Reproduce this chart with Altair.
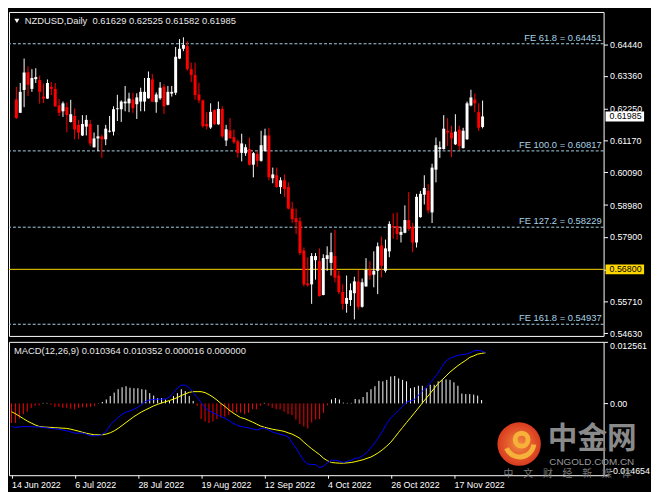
import json
import altair as alt
import pandas as pd

# ---------------- data ----------------
date_labels = ["14 Jun 2022", "6 Jul 2022", "28 Jul 2022", "19 Aug 2022",
               "12 Sep 2022", "4 Oct 2022", "26 Oct 2022", "17 Nov 2022"]
label_step = 16  # bars between date labels

opens = [
    0.6256, 0.6211, 0.6288, 0.6348, 0.6292, 0.6325, 0.6322, 0.6266, 0.6259, 0.6299,
    0.6292, 0.6236, 0.6216, 0.6230, 0.6180, 0.6200, 0.6170, 0.6134, 0.6164, 0.6173,
    0.6094, 0.6124, 0.6131, 0.6121, 0.6147, 0.6147, 0.6223, 0.6223, 0.6243, 0.6243,
    0.6256, 0.6240, 0.6249, 0.6249, 0.6260, 0.6324, 0.6247, 0.6260, 0.6299, 0.6238,
    0.6276, 0.6279, 0.6395, 0.6428, 0.6437, 0.6359, 0.6339, 0.6273, 0.6253, 0.6173,
    0.6161, 0.6220, 0.6172, 0.6224, 0.6117, 0.6151, 0.6128, 0.6114, 0.6075, 0.6074,
    0.6088, 0.6035, 0.6071, 0.6048, 0.6081, 0.6134, 0.5989, 0.5999, 0.5959, 0.5982,
    0.5959, 0.5886, 0.5853, 0.5843, 0.5744, 0.5632, 0.5629, 0.5711, 0.5708, 0.5593,
    0.5715, 0.5702, 0.5725, 0.5659, 0.5603, 0.5563, 0.5576, 0.5599, 0.5639, 0.5553,
    0.5622, 0.5678, 0.5662, 0.5675, 0.5761, 0.5675, 0.5741, 0.5827, 0.5827, 0.5797,
    0.5804, 0.5847, 0.5824, 0.5771, 0.5857, 0.5933, 0.5946, 0.5873, 0.6018, 0.6088,
    0.6088, 0.6150, 0.6144, 0.6104, 0.6154, 0.6091, 0.6121, 0.6236, 0.6256, 0.6213,
    0.61629]
highs = [
    0.6299, 0.6312, 0.6395, 0.6368, 0.6359, 0.6362, 0.6337, 0.6310, 0.6324, 0.6315,
    0.6312, 0.6258, 0.6249, 0.6246, 0.6255, 0.6226, 0.6187, 0.6203, 0.6203, 0.6187,
    0.6144, 0.6170, 0.6137, 0.6170, 0.6200, 0.6233, 0.6272, 0.6253, 0.6302, 0.6279,
    0.6279, 0.6277, 0.6296, 0.6329, 0.6351, 0.6342, 0.6280, 0.6315, 0.6309, 0.6302,
    0.6302, 0.6434, 0.6461, 0.6467, 0.6454, 0.6381, 0.6381, 0.6313, 0.6256, 0.6213,
    0.6243, 0.6223, 0.6249, 0.6233, 0.6170, 0.6193, 0.6154, 0.6120, 0.6140, 0.6104,
    0.6127, 0.6078, 0.6081, 0.6150, 0.6157, 0.6160, 0.6025, 0.6025, 0.5992, 0.6002,
    0.5975, 0.5909, 0.5886, 0.5857, 0.5754, 0.5721, 0.5735, 0.5735, 0.5751, 0.5731,
    0.5758, 0.5804, 0.5814, 0.5675, 0.5629, 0.5659, 0.5632, 0.5655, 0.5678, 0.5649,
    0.5718, 0.5708, 0.5741, 0.5771, 0.5791, 0.5781, 0.5843, 0.5870, 0.5873, 0.5824,
    0.5897, 0.5942, 0.5837, 0.5936, 0.5946, 0.5999, 0.5969, 0.6038, 0.6127, 0.6114,
    0.6203, 0.6193, 0.6167, 0.6206, 0.6167, 0.6160, 0.6249, 0.6289, 0.6276, 0.6243,
    0.62525]
lows = [
    0.6190, 0.6210, 0.6230, 0.6268, 0.6282, 0.6312, 0.6242, 0.6244, 0.6258, 0.6271,
    0.6232, 0.6200, 0.6197, 0.6145, 0.6178, 0.6121, 0.6121, 0.6132, 0.6134, 0.6098,
    0.6093, 0.6081, 0.6058, 0.6101, 0.6144, 0.6134, 0.6183, 0.6180, 0.6216, 0.6213,
    0.6211, 0.6190, 0.6216, 0.6216, 0.6259, 0.6248, 0.6211, 0.6255, 0.6207, 0.6236,
    0.6266, 0.6271, 0.6393, 0.6420, 0.6354, 0.6315, 0.6255, 0.6244, 0.6161, 0.6155,
    0.6156, 0.6170, 0.6170, 0.6126, 0.6098, 0.6122, 0.6106, 0.6059, 0.6046, 0.6065,
    0.6032, 0.5992, 0.6028, 0.6045, 0.6079, 0.5982, 0.5972, 0.5957, 0.5936, 0.5926,
    0.5883, 0.5837, 0.5800, 0.5728, 0.5622, 0.5622, 0.5563, 0.5645, 0.5588, 0.5592,
    0.5675, 0.5659, 0.5636, 0.5596, 0.5543, 0.5533, 0.5556, 0.5510, 0.5543, 0.5550,
    0.5621, 0.5645, 0.5619, 0.5596, 0.5652, 0.5669, 0.5721, 0.5784, 0.5781, 0.5771,
    0.5802, 0.5810, 0.5738, 0.5754, 0.5855, 0.5900, 0.5870, 0.5837, 0.5975, 0.6058,
    0.6086, 0.6098, 0.6061, 0.6102, 0.6084, 0.6090, 0.6119, 0.6233, 0.6213, 0.6149,
    0.61582]
closes = [
    0.6193, 0.6282, 0.6348, 0.6306, 0.6329, 0.6332, 0.6282, 0.6259, 0.6312, 0.6292,
    0.6233, 0.6211, 0.6243, 0.6203, 0.6206, 0.6154, 0.6144, 0.6173, 0.6187, 0.6107,
    0.6124, 0.6131, 0.6121, 0.6157, 0.6150, 0.6223, 0.6226, 0.6249, 0.6249, 0.6259,
    0.6227, 0.6263, 0.6282, 0.6282, 0.6329, 0.6249, 0.6273, 0.6296, 0.6233, 0.6282,
    0.6282, 0.6401, 0.6428, 0.6441, 0.6359, 0.6339, 0.6271, 0.6253, 0.6165, 0.6165,
    0.6214, 0.6172, 0.6224, 0.6131, 0.6155, 0.6125, 0.6111, 0.6075, 0.6107, 0.6094,
    0.6035, 0.6074, 0.6048, 0.6101, 0.6134, 0.5992, 0.6002, 0.5959, 0.5982, 0.5952,
    0.5886, 0.5850, 0.5840, 0.5735, 0.5629, 0.5626, 0.5725, 0.5725, 0.5589, 0.5718,
    0.5728, 0.5738, 0.5652, 0.5603, 0.5563, 0.5583, 0.5609, 0.5639, 0.5553, 0.5636,
    0.5678, 0.5659, 0.5675, 0.5758, 0.5692, 0.5751, 0.5834, 0.5824, 0.5800, 0.5807,
    0.5847, 0.5817, 0.5771, 0.5926, 0.5936, 0.5956, 0.5880, 0.6025, 0.6101, 0.6094,
    0.6157, 0.6144, 0.6124, 0.6147, 0.6098, 0.6150, 0.6243, 0.6263, 0.6243, 0.6160,
    0.61985]

macd_main = [
    -0.00470, -0.00490, -0.00480, -0.00474, -0.00474, -0.00476, -0.00480, -0.00480, -0.00490, -0.00500,
    -0.00510, -0.00520, -0.00526, -0.00544, -0.00560, -0.00580, -0.00606, -0.00606, -0.00606, -0.00630,
    -0.00660, -0.00660, -0.00660, -0.00630, -0.00570, -0.00440, -0.00360, -0.00290, -0.00220, -0.00180,
    -0.00150, -0.00120, -0.00080, -0.00020, 0.00040, 0.00070, 0.00080, 0.00086, 0.00086, 0.00090,
    0.00130, 0.00220, 0.00310, 0.00374, 0.00370, 0.00320, 0.00220, 0.00120, 0.00020, -0.00090,
    -0.00150, -0.00190, -0.00230, -0.00270, -0.00300, -0.00350, -0.00400, -0.00440, -0.00470, -0.00484,
    -0.00500, -0.00520, -0.00540, -0.00520, -0.00500, -0.00540, -0.00580, -0.00610, -0.00630, -0.00650,
    -0.00680, -0.00794, -0.00910, -0.01040, -0.01170, -0.01240, -0.01246, -0.01250, -0.01310, -0.01280,
    -0.01210, -0.01160, -0.01160, -0.01180, -0.01206, -0.01180, -0.01160, -0.01120, -0.01114, -0.01060,
    -0.01000, -0.00900, -0.00800, -0.00680, -0.00560, -0.00410, -0.00300, -0.00220, -0.00140, -0.00060,
    0.00030, 0.00050, 0.00080, 0.00170, 0.00250, 0.00330, 0.00420, 0.00520, 0.00620, 0.00760,
    0.00870, 0.00920, 0.00950, 0.00980, 0.00994, 0.01004, 0.01030, 0.01070, 0.01086, 0.01070,
    0.010364]
macd_signal = [
    -0.00170, -0.00210, -0.00260, -0.00310, -0.00360, -0.00400, -0.00440, -0.00470, -0.00480, -0.00486,
    -0.00490, -0.00496, -0.00500, -0.00506, -0.00510, -0.00526, -0.00546, -0.00566, -0.00590, -0.00610,
    -0.00626, -0.00640, -0.00640, -0.00640, -0.00626, -0.00600, -0.00560, -0.00510, -0.00450, -0.00390,
    -0.00330, -0.00270, -0.00220, -0.00170, -0.00130, -0.00090, -0.00050, -0.00020, 0.00010, 0.00034,
    0.00060, 0.00086, 0.00120, 0.00160, 0.00194, 0.00226, 0.00240, 0.00240, 0.00240, 0.00220,
    0.00180, 0.00130, 0.00070, 0.00000, -0.00060, -0.00130, -0.00190, -0.00240, -0.00290, -0.00310,
    -0.00346, -0.00380, -0.00420, -0.00460, -0.00486, -0.00506, -0.00526, -0.00540, -0.00554, -0.00570,
    -0.00600, -0.00626, -0.00666, -0.00714, -0.00790, -0.00860, -0.00926, -0.00986, -0.01046, -0.01120,
    -0.01170, -0.01206, -0.01214, -0.01220, -0.01220, -0.01214, -0.01206, -0.01190, -0.01170, -0.01150,
    -0.01120, -0.01094, -0.01050, -0.01000, -0.00940, -0.00870, -0.00794, -0.00694, -0.00590, -0.00490,
    -0.00390, -0.00294, -0.00194, -0.00094, 0.00010, 0.00106, 0.00206, 0.00306, 0.00406, 0.00480,
    0.00560, 0.00640, 0.00706, 0.00770, 0.00826, 0.00880, 0.00940, 0.00970, 0.01006, 0.01020,
    0.010352]
macd_hist = [
    -0.00400, -0.00400, -0.00310, -0.00220, -0.00170, -0.00090, -0.00050, -0.00040, 0.00010, 0.00010,
    -0.00030, -0.00070, -0.00070, -0.00090, -0.00090, -0.00110, -0.00120, -0.00090, -0.00080, -0.00080,
    -0.00070, -0.00050, 0.00005, 0.00030, 0.00080, 0.00150, 0.00220, 0.00290, 0.00330, 0.00350,
    0.00320, 0.00310, 0.00310, 0.00290, 0.00280, 0.00210, 0.00160, 0.00110, 0.00110, 0.00080,
    0.00050, 0.00150, 0.00210, 0.00290, 0.00250, 0.00150, 0.00050, -0.00050, -0.00320, -0.00370,
    -0.00400, -0.00370, -0.00320, -0.00290, -0.00270, -0.00240, -0.00190, -0.00190, -0.00190, -0.00220,
    -0.00190, -0.00120, -0.00120, -0.00050, 0.00010, -0.00050, -0.00090, -0.00120, -0.00120, -0.00170,
    -0.00220, -0.00240, -0.00330, -0.00420, -0.00470, -0.00510, -0.00390, -0.00330, -0.00320, -0.00190,
    -0.00040, 0.00080, 0.00110, 0.00080, 0.00015, 0.00010, 0.00010, 0.00090, 0.00080, 0.00130,
    0.00230, 0.00290, 0.00350, 0.00460, 0.00450, 0.00480, 0.00550, 0.00560, 0.00510, 0.00480,
    0.00450, 0.00310, 0.00330, 0.00360, 0.00360, 0.00310, 0.00380, 0.00380, 0.00450, 0.00480,
    0.00490, 0.00480, 0.00430, 0.00360, 0.00200, 0.00190, 0.00190, 0.00180, 0.00160, 0.00070,
    0.000016]

fe_names = ["FE 61.8", "FE 100.0", "FE 127.2", "FE 161.8"]
fe_levels = [0.64451, 0.60817, 0.58229, 0.54937]
support_level = 0.56800

price_ticks = [0.64440, 0.63360, 0.62250, 0.61170, 0.60090, 0.58980, 0.57900, 0.56800, 0.55710, 0.54630]
price_domain = [0.54541, 0.65529]
macd_domain = [-0.014654, 0.012561]

symbol = "NZDUSD,Daily"
macd_name = "MACD(12,26,9)"
wm_big = "中金网"
wm_site = "CNGOLD.COM.CN"
wm_slogan = "中　文　财　经　新　媒　体"

# ---------------- styling ----------------
FONT = "Liberation Sans"
CJK = "Noto Sans CJK SC"
FE_COLOR = "#a9d3e6"
W, H1, H2 = 602, 328, 135

n = len(opens)
bars = pd.DataFrame({"i": list(range(n)), "o": opens, "h": highs, "l": lows, "c": closes})
bars["col"] = ["#ffffff" if c >= o else "#ff0000" for o, c in zip(opens, closes)]

mac = pd.DataFrame({"i": list(range(n)), "macd": macd_main, "signal": macd_signal, "hist": macd_hist})
mac["hcol"] = ["#ffffff" if v >= 0 else "#ff0000" for v in macd_hist]

fe_df = pd.DataFrame({"level": fe_levels,
                      "label": [f"{a} = {b:.5f}" for a, b in zip(fe_names, fe_levels)]})
sup_df = pd.DataFrame({"level": [support_level]})
tags = pd.DataFrame({"v": [closes[-1], support_level],
                     "bg": ["#ffffff", "#ffd700"],
                     "label": [f"{closes[-1]:.5f}", f"{support_level:.5f}"]})

x_scale = alt.Scale(domain=[-0.625, 149.875], nice=False, zero=False)
p_scale = alt.Scale(domain=price_domain, nice=False, zero=False)
m_scale = alt.Scale(domain=macd_domain, nice=False, zero=False)

p_axis = alt.Axis(orient="right", values=price_ticks, format=".5f", tickSize=4, labelPadding=2,
                  title=None, labelOverlap=False, labelFlush=False, grid=False, domain=False)
m_axis = alt.Axis(orient="right", values=[macd_domain[1], 0.0, macd_domain[0]],
                  labelExpr="datum.value == 0 ? '0.00' : replace(format(datum.value, '.6f'), '\u2212', '-')",
                  tickSize=4, labelPadding=2, title=None, labelOverlap=False, labelFlush=True,
                  grid=False, domain=False)
d_axis = alt.Axis(values=[k * label_step for k in range(len(date_labels))],
                  labelExpr=json.dumps(date_labels) + f"[round(datum.value / {label_step})]",
                  labelAlign="left", labelBaseline="top", labelPadding=2, tickSize=3,
                  title=None, labelOverlap=False, labelFlush=False, labelBound=False,
                  grid=False, domain=False)

XP = alt.X("i:Q", scale=x_scale, axis=None)
XM = alt.X("i:Q", scale=x_scale, axis=d_axis)


def YP(f):
    return alt.Y(f, type="quantitative", scale=p_scale, axis=p_axis)


def YM(f):
    return alt.Y(f, type="quantitative", scale=m_scale, axis=m_axis)


# ---------------- price panel ----------------
fe_rules = alt.Chart(fe_df).mark_rule(color=FE_COLOR, strokeDash=[3, 2], strokeWidth=1).encode(y=YP("level"))
sup_rule = alt.Chart(sup_df).mark_rule(color="#ffd700", strokeWidth=1).encode(y=YP("level"))
wicks = alt.Chart(bars).mark_rule(strokeWidth=1).encode(
    x=XP, y=YP("l"), y2="h", color=alt.Color("col:N", scale=None))
bodies = alt.Chart(bars).mark_bar(width=3).encode(
    x=XP, y=YP("o"), y2="c", color=alt.Color("col:N", scale=None))
fe_text = alt.Chart(fe_df).mark_text(align="right", baseline="alphabetic", dy=-3, font=FONT,
                                     fontSize=9.5, color=FE_COLOR).encode(
    x=alt.value(W - 2), y=YP("level"), text="label:N")
tag_rect = alt.Chart(tags).mark_rect(yOffset=-5, y2Offset=5).encode(
    x=alt.value(W + 2), x2=alt.value(W + 41), y=YP("v"), y2="v", color=alt.Color("bg:N", scale=None))
tag_text = alt.Chart(tags).mark_text(align="left", baseline="middle", font=FONT, fontSize=9,
                                     color="#000000").encode(
    x=alt.value(W + 6), y=YP("v"), text="label:N")

header = f"{symbol}\u00a0 {opens[-1]:.5f} {highs[-1]:.5f} {lows[-1]:.5f} {closes[-1]:.5f}"
hdf = pd.DataFrame({"t": [header]})
head_tri = alt.Chart(hdf).mark_point(shape="triangle-down", filled=True, size=26, color="#ffffff",
                                     opacity=1).encode(x=alt.value(8), y=alt.value(9))
head_text = alt.Chart(hdf).mark_text(align="left", baseline="middle", font=FONT, fontSize=9.5,
                                     color="#e8e8e8").encode(x=alt.value(16), y=alt.value(9), text="t:N")

price_panel = alt.layer(fe_rules, sup_rule, wicks, bodies, fe_text, tag_rect, tag_text,
                        head_tri, head_text).properties(width=W, height=H1)

# ---------------- MACD panel ----------------
hist = alt.Chart(mac).mark_rule(strokeWidth=1).encode(
    x=XM, y=YM("hist"), y2=alt.datum(0), color=alt.Color("hcol:N", scale=None))
sig_line = alt.Chart(mac).mark_line(color="#ffff00", strokeWidth=1).encode(x=XM, y=YM("signal"))
macd_line = alt.Chart(mac).mark_line(color="#0000ff", strokeWidth=1).encode(x=XM, y=YM("macd"))

mh = (f"{macd_name} {macd_main[-1]:.6f} {macd_signal[-1]:.6f} "
      f"{max(macd_hist[-1], 0):.6f} {abs(min(macd_hist[-1], 0)):.6f}")
mdf = pd.DataFrame({"t": [mh]})
macd_text = alt.Chart(mdf).mark_text(align="left", baseline="middle", font=FONT, fontSize=9.5,
                                     color="#e8e8e8").encode(x=alt.value(5), y=alt.value(9), text="t:N")

# watermark
wm = pd.DataFrame({"t": [wm_big]})
logo = alt.Chart(wm).mark_arc(
    radius=22, theta=0, theta2=6.2832,
    fill={"gradient": "radial", "stops": [{"offset": 0, "color": "#f28a3e"},
                                          {"offset": 1, "color": "#d93a1f"}]}
).encode(x=alt.value(516.5), y=alt.value(103.5))
swirl_head = alt.Chart(wm).mark_arc(radius=9, radius2=4, theta=0, theta2=6.2832,
                                    fill="#f6b13a").encode(x=alt.value(519), y=alt.value(99))
swirl_tail = alt.Chart(wm).mark_arc(radius=17, radius2=12, theta=1.7, theta2=4.3,
                                    fill="#f6b13a").encode(x=alt.value(517), y=alt.value(102))
wm_t1 = alt.Chart(wm).mark_text(font=CJK, fontSize=30, fontWeight="bold", color="#8a8a8a",
                                baseline="middle").encode(x=alt.value(590.5), y=alt.value(98), text="t:N")
wm_t2 = alt.Chart(pd.DataFrame({"t": [wm_site]})).mark_text(
    font=FONT, fontSize=10, color="#9a9a9a", baseline="middle").encode(
    x=alt.value(590), y=alt.value(121.5), text="t:N")
wm_t3 = alt.Chart(pd.DataFrame({"t": [wm_slogan]})).mark_text(
    font=CJK, fontSize=10, color="#7a7a7a", baseline="middle").encode(
    x=alt.value(565.5), y=alt.value(134), text="t:N")

macd_panel = alt.layer(hist, sig_line, macd_line, macd_text, logo, swirl_head, swirl_tail,
                       wm_t1, wm_t2, wm_t3).properties(width=W, height=H2)

chart = alt.vconcat(price_panel, macd_panel, spacing=2).properties(
    padding={"left": 0, "top": 0, "right": 0, "bottom": 0}
).configure(background="#000000").configure_view(
    stroke="#ffffff", strokeWidth=1
).configure_axis(
    labelFont=FONT, labelFontSize=9, labelColor="#ffffff", tickColor="#ffffff", tickWidth=1
)

chart.save("out.html", embed_options={"renderer": "svg", "actions": False})
